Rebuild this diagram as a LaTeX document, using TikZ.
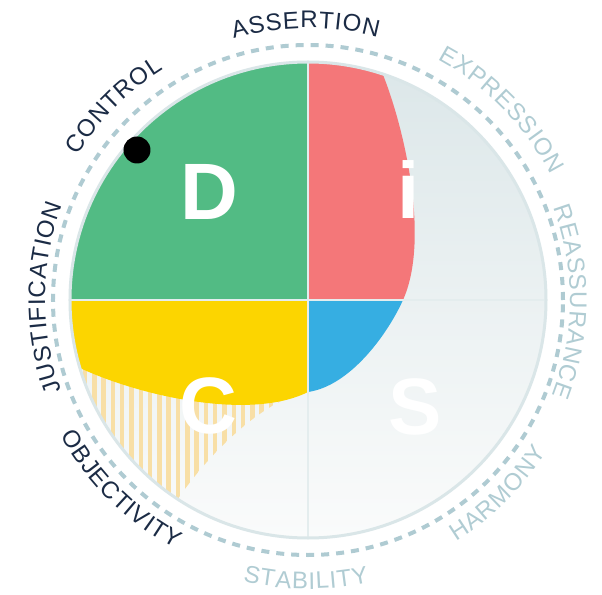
\documentclass[tikz,border=0pt]{standalone}
\usepackage{fontspec}
\setmainfont{Liberation Sans}
\newfontfamily\lblfont{Liberation Sans}
\newcommand\lblfmt{\lblfont\fontsize{24}{28}\selectfont}
\newcommand\lblsp{0.9}
\definecolor{discgreen}{HTML}{52BB84}
\definecolor{discred}{HTML}{F47779}
\definecolor{discyellow}{HTML}{FCD500}
\definecolor{discblue}{HTML}{36AEE2}
\definecolor{navy}{HTML}{1B2B45}
\definecolor{pale}{HTML}{B0CCD3}
\definecolor{ringc}{HTML}{AFCBD2}
\definecolor{bgtop}{HTML}{DCE7E9}
\definecolor{bgbot}{HTML}{FAFBFB}
\definecolor{edgec}{HTML}{DAE6E8}
\definecolor{divc}{HTML}{E4EDEE}
\definecolor{hatchc}{HTML}{F8DFA6}
% #1 colour, #2 centre angle, #3 baseline radius, #4 sign (1 = clockwise, tops outward; -1 = counter-clockwise, tops inward), #5 letters
\newcommand\arclabel[5]{%
  \begingroup\lblfmt
  \gdef\lbltotal{0}\gdef\lblcount{0}%
  \foreach \ch in {#5}{%
    \pgfmathwidth{"\ch"}%
    \pgfmathparse{\lbltotal+\pgfmathresult}\xdef\lbltotal{\pgfmathresult}%
    \pgfmathparse{\lblcount+1}\xdef\lblcount{\pgfmathresult}}%
  \pgfmathparse{\lbltotal+(\lblcount-1)*\lblsp}\xdef\lbltotal{\pgfmathresult}%
  \gdef\lblcum{0}%
  \foreach \ch in {#5}{%
    \pgfmathwidth{"\ch"}\let\lblw\pgfmathresult
    \pgfmathparse{#2+#4*(\lbltotal/2-\lblcum-\lblw/2)/#3*180/pi}\let\lblang\pgfmathresult
    \node[lbl,text=#1,rotate={\lblang-#4*90}] at (\lblang:#3) {\ch};
    \pgfmathparse{\lblcum+\lblw+\lblsp}\xdef\lblcum{\pgfmathresult}}%
  \endgroup}
\begin{document}
\begin{tikzpicture}[x=1pt,y=1pt,
  bigletter/.style={text=white,font=\fontsize{80}{90}\selectfont\bfseries,inner sep=0pt,anchor=base},
  lbl/.style={font=\lblfmt,inner sep=0pt,anchor=base},
  divider/.style={draw=divc,line width=2pt},
  ring/.style={draw=ringc,line width=4pt,dash pattern=on 8pt off 7pt}]
\fill[white] (-308,-294) rectangle (294,300);
\useasboundingbox (-308,-294) rectangle (294,300);
% background disc
\shade[top color=bgtop,bottom color=bgbot] (0,0) circle[radius=238];
% hatched region
\begin{scope}
  \clip (0,0) -- (-238,0) arc[start angle=180,end angle=236.8,radius=238]
    .. controls (-93,-145) and (-38,-97) .. (0,-92) -- cycle;
  \foreach \k in {0,...,26} {
    \draw[hatchc,line width=4.5pt] ({-223+9.3*\k},10) -- ({-223+9.3*\k},-240);
  }
\end{scope}
% green quadrant
\fill[discgreen] (0,0) -- (0,238) arc[start angle=90,end angle=180,radius=238] -- cycle;
% red region
\fill[discred] (0,0) -- (0,238) arc[start angle=90,end angle=71.7,radius=238]
  .. controls (97,170) and (122,60) .. (95,0) -- cycle;
% blue region
\fill[discblue] (0,0) -- (95,0) .. controls (79.4,-34.6) and (42,-86) .. (0,-92) -- cycle;
% yellow region
\fill[discyellow] (0,0) -- (-238,0) arc[start angle=180,end angle=196.6,radius=238]
  .. controls (-168,-96) and (-58,-121) .. (0,-92) -- cycle;
% dividers
\coordinate (L) at (-238,0); \coordinate (R) at (238,0);
\coordinate (T) at (0,238); \coordinate (B) at (0,-238);
\draw[divider] (L) -- (R);
\draw[divider] (T) -- (B);
% outline and dashed ring
\draw[edgec,line width=3pt] (0,0) circle[radius=238];
\draw[ring] (0,0) circle[radius=255];
% letters
\node[bigletter] (D) at (-99,80) {D};
\node[bigletter] (I) at (101,81) {i};
\node[bigletter] (C) at (-100,-133) {C};
\node[bigletter] (S) at (107.5,-134) {S};
% dot
\fill[black] (-171,150) circle[radius=13.5];
% labels
\arclabel{navy}{90.5}{272}{1}{A,S,S,E,R,T,I,O,N}
\arclabel{navy}{135}{272}{1}{C,O,N,T,R,O,L}
\arclabel{navy}{179.5}{263}{1}{J,U,S,T,I,F,I,C,A,T,I,O,N}
\arclabel{pale}{44.5}{273}{1}{E,X,P,R,E,S,S,I,O,N}
\arclabel{pale}{-0.4}{262}{1}{R,E,A,S,S,U,R,A,N,C,E}
\arclabel{pale}{-45.5}{283}{-1}{H,A,R,M,O,N,Y}
\arclabel{pale}{-90.4}{289}{-1}{S,T,A,B,I,L,I,T,Y}
\arclabel{navy}{-134.7}{282}{-1}{O,B,J,E,C,T,I,V,I,T,Y}
\end{tikzpicture}
\end{document}
